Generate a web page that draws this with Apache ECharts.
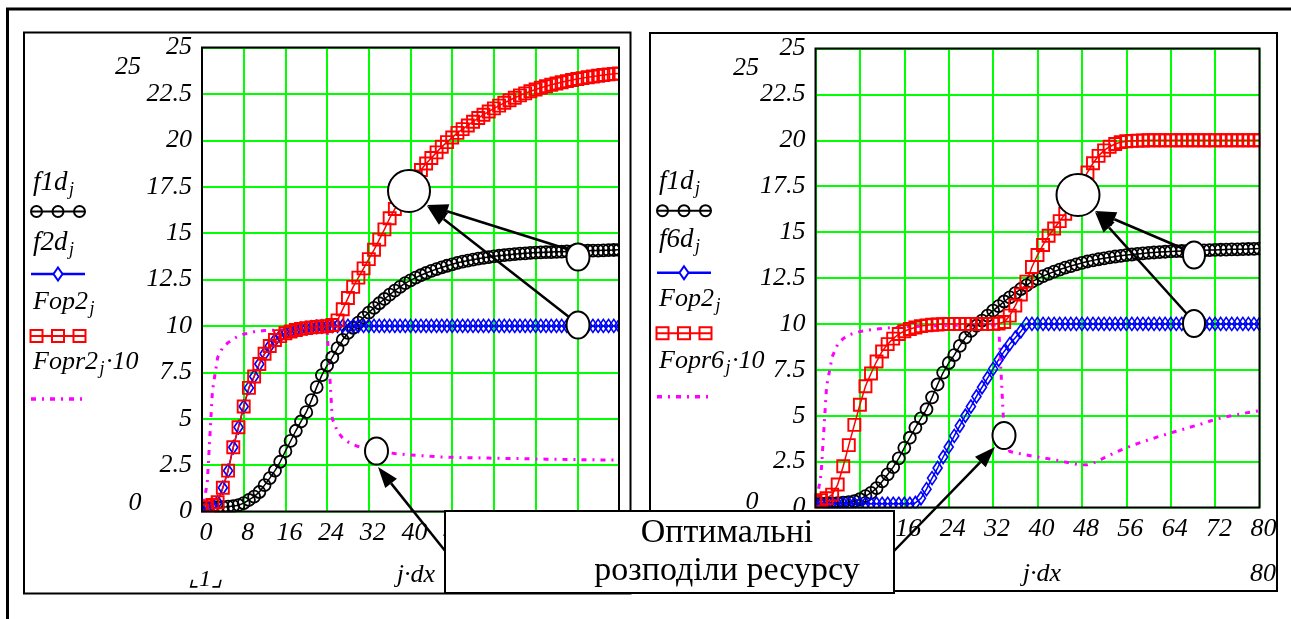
<!DOCTYPE html>
<html><head><meta charset="utf-8">
<script src="https://cdn.jsdelivr.net/npm/echarts@6/dist/echarts.min.js"></script>
<style>html,body{margin:0;padding:0;background:#fff;}#c{width:1291px;height:619px;}</style>
</head><body><div id="c"></div>
<script>
// ---------- data ----------
const jdx = [0,1,2,3,4,5,6,7,8,9,10,11,12,13,14,15,16,17,18,19,20,21,22,23,24,25,26,27,28,29,30,31,32,33,34,35,36,37,38,39,40,41,42,43,44,45,46,47,48,49,50,51,52,53,54,55,56,57,58,59,60,61,62,63,64,65,66,67,68,69,70,71,72,73,74,75,76,77,78,79,80];
const xMin = 0, xMax = 80, xStep = 8;
const yMin = 0, yMax = 25, yStep = 2.5;

// f1d_j (both panels)
const f1d = [0.2,0.21,0.22,0.23,0.24,0.26,0.29,0.34,0.45,0.62,
 0.8,1.05,1.42,1.8,2.2,2.68,3.25,3.8,4.35,4.85,
 5.35,6.0,6.7,7.35,7.87,8.3,8.8,9.25,9.62,9.9,
 10.18,10.45,10.72,10.97,11.22,11.45,11.68,11.9,12.1,12.3,
 12.45,12.6,12.73,12.85,12.96,13.06,13.15,13.24,13.32,13.4,
 13.46,13.52,13.57,13.62,13.67,13.71,13.75,13.78,13.81,13.84,
 13.87,13.89,13.91,13.93,13.95,13.96,13.97,13.98,13.99,14.0,
 14.01,14.02,14.03,14.04,14.05,14.06,14.06,14.07,14.08,14.09,14.1];

// left panel
const f2d = [0.05,0.23,0.35,0.5,1.28,2.2,3.46,4.54,5.66,6.66,
 7.27,7.95,8.5,8.92,9.24,9.45,9.6,9.7,9.78,9.84,
 9.88,9.92,9.95,9.97,9.99,10,10,10,10,10,
 10,10,10,10,10,10,10,10,10,10,
 10,10,10,10,10,10,10,10,10,10,
 10,10,10,10,10,10,10,10,10,10,
 10,10,10,10,10,10,10,10,10,10,
 10,10,10,10,10,10,10,10,10,10,10];
const Fop2L = [0.05,0.23,0.35,0.5,1.28,2.2,3.46,4.54,5.66,6.66,
 7.27,7.95,8.5,8.92,9.24,9.45,9.6,9.7,9.78,9.84,
 9.88,9.92,9.95,9.97,9.99,10.05,10.3,10.9,11.5,12.1,
 12.6,13.1,13.6,14.1,14.65,15.2,15.8,16.3,16.8,17.25,
 17.65,18.05,18.4,18.75,19.05,19.35,19.65,19.9,20.15,20.4,
 20.6,20.8,21.0,21.2,21.38,21.55,21.72,21.87,22.02,22.16,
 22.29,22.42,22.53,22.64,22.74,22.83,22.91,22.99,23.06,23.13,
 23.19,23.25,23.3,23.35,23.4,23.44,23.48,23.52,23.55,23.58,23.6];
const Fopr2x10 = [0,1.5,6.5,8.3,8.85,9.1,9.3,9.45,9.55,9.62,
 9.68,9.72,9.75,9.76,9.77,9.78,9.78,9.79,9.79,9.8,
 9.8,9.8,9.8,9.8,9.7,5.0,4.3,3.95,3.75,3.6,
 3.5,3.42,3.35,3.3,3.25,3.2,3.16,3.12,3.1,3.07,
 3.05,3.03,3.01,2.99,2.97,2.95,2.94,2.93,2.92,2.91,
 2.9,2.9,2.89,2.89,2.88,2.88,2.87,2.87,2.86,2.86,
 2.85,2.85,2.84,2.84,2.83,2.83,2.82,2.82,2.81,2.81,
 2.8,2.8,2.8,2.79,2.79,2.79,2.78,2.78,2.78,2.77,2.77];

// right panel
const f6d = [0.2,0.2,0.2,0.2,0.2,0.2,0.2,0.2,0.2,0.2,
 0.2,0.2,0.2,0.2,0.2,0.2,0.2,0.2,0.25,0.5,
 1.0,1.6,2.15,2.75,3.3,3.9,4.45,5.0,5.5,6.05,
 6.55,7.05,7.55,8.05,8.5,8.9,9.25,9.6,10,10,
 10,10,10,10,10,10,10,10,10,10,
 10,10,10,10,10,10,10,10,10,10,
 10,10,10,10,10,10,10,10,10,10,
 10,10,10,10,10,10,10,10,10,10,10];
const Fop2R = [0.3,0.4,0.5,0.7,1.25,2.25,3.4,4.5,5.6,6.6,
 7.3,7.95,8.5,8.9,9.2,9.45,9.6,9.72,9.8,9.88,
 9.92,9.95,9.97,9.99,10,10,10,10,10,10,
 10,10,10,10.02,10.1,10.45,11.0,11.6,12.3,13.1,
 13.75,14.3,14.8,15.2,15.6,16.0,16.6,17.15,17.7,18.25,
 18.75,19.15,19.45,19.65,19.8,19.9,19.95,19.97,19.98,19.99,
 20,20,20,20,20,20,20,20,20,20,
 20,20,20,20,20,20,20,20,20,20,20];
const Fopr6x10 = [0,1.8,6.6,8.2,8.9,9.2,9.4,9.5,9.58,9.64,
 9.68,9.72,9.75,9.78,9.8,9.82,9.84,9.86,9.87,9.88,
 9.89,9.9,9.9,9.91,9.91,9.92,9.92,9.93,9.93,9.94,
 9.94,9.95,9.95,9.9,4.0,3.05,2.98,2.92,2.86,2.8,
 2.75,2.7,2.65,2.6,2.55,2.48,2.42,2.36,2.32,2.33,
 2.42,2.55,2.7,2.85,3.0,3.13,3.25,3.37,3.48,3.58,
 3.68,3.78,3.88,3.97,4.06,4.15,4.24,4.33,4.42,4.5,
 4.6,4.7,4.8,4.87,4.94,5.0,5.06,5.12,5.17,5.22,5.27];

// ---------- drawing ----------
const FF = '"Liberation Serif","Times New Roman",serif';
const chart = echarts.init(document.getElementById('c'), null, {renderer:'canvas'});
const mctx = document.createElement('canvas').getContext('2d');
function tw(t, s, it){ mctx.font = (it?'italic ':'') + s + 'px "Liberation Serif"'; return mctx.measureText(t).width; }

const ST = {
  circ: {symbol:'circle', size:12, color:'#000000', lw:1.5, bw:1.8},
  diam: {symbol:'diamond', size:[9,13], color:'#0000ff', lw:1.5, bw:1.7},
  sq:   {symbol:'rect', size:12, color:'#ff0000', lw:1.5, bw:1.9},
  dd:   {symbol:'none', color:'#ff00ff', lw:3, dash:[5,6,2,6]}
};
function mk(gi, ys, st){
  return {
    type:'line', xAxisIndex:gi, yAxisIndex:gi, silent:true, animation:false,
    data: jdx.map((x,i)=>[x, ys[i]]),
    symbol: st.symbol, symbolSize: st.size || 0, showSymbol: st.symbol !== 'none', showAllSymbol:true,
    lineStyle:{color:st.color, width:st.lw, type: st.dash || 'solid', cap:'butt'},
    itemStyle:{color:'rgba(0,0,0,0)', borderColor:st.color, borderWidth:st.bw || 0},
    emphasis:{disabled:true}, clip:true, z:2
  };
}
const grids = [
  {left:202, top:47.5, width:417, height:464},
  {left:815.5, top:48.5, width:444, height:459}
];
const lab = {fontFamily:FF, fontStyle:'italic', fontSize:26, color:'#000'};
function xa(gi){ return {type:'value', gridIndex:gi, min:xMin, max:xMax, interval:xStep,
  axisLine:{show:false}, axisTick:{show:false},
  splitLine:{show:true, lineStyle:{color:'#00ff00', width:2}},
  axisLabel:Object.assign({margin:9, padding:[0,0,0,8]}, lab)}; }
function ya(gi){ return {type:'value', gridIndex:gi, min:yMin, max:yMax, interval:yStep,
  axisLine:{show:false}, axisTick:{show:false},
  splitLine:{show:true, lineStyle:{color:'#00ff00', width:2}},
  axisLabel:Object.assign({margin:10}, lab)}; }

// graphic helpers
const G = [];
function T(x, yb, t, s, it, align, z){ G.push({type:'text', x:x, y:yb - 0.33*s, z:z||10,
  style:{text:t, fontSize:s, fontFamily:FF, fontStyle: it?'italic':'normal', fill:'#000', align:align||'left', verticalAlign:'middle'}}); }
function TS(x, yb, parts){ // parts: [text, size, dy]
  let cx = x;
  parts.forEach(p=>{ T(cx, yb + (p[2]||0), p[0], p[1], true); cx += tw(p[0], p[1], true) + 1.5; });
}
function R(x,y,w,h,lw,fill,z,stroke){ G.push({type:'rect', z:z||1, shape:{x:x,y:y,width:w,height:h}, style:{fill:fill||'none', stroke: stroke===undefined?'#000':stroke, lineWidth:lw}}); }
function L(x1,y1,x2,y2,col,lw,dash,z){ G.push({type:'line', z:z||10, shape:{x1:x1,y1:y1,x2:x2,y2:y2}, style:{stroke:col, lineWidth:lw, lineDash:dash||null}}); }
function E(cx,cy,rx,ry,z){ G.push({type:'ellipse', z:z||102, shape:{cx:cx,cy:cy,rx:rx,ry:ry}, style:{fill:'#fff', stroke:'#000', lineWidth:2}}); }
function C(cx,cy,r,col){ G.push({type:'circle', z:10, shape:{cx:cx,cy:cy,r:r}, style:{fill:'none', stroke:col, lineWidth:2}}); }
function P(pts,fill,stroke,z){ G.push({type:'polygon', z:z||10, shape:{points:pts}, style:{fill:fill, stroke:stroke||fill, lineWidth:stroke?2:0}}); }
function A(x1,y1,x2,y2){
  const dx=x2-x1, dy=y2-y1, d=Math.hypot(dx,dy), ux=dx/d, uy=dy/d, Lh=21, W=7.5;
  const bx=x2-ux*Lh, by=y2-uy*Lh;
  L(x1,y1,bx,by,'#000',2.5,null,101);
  P([[x2,y2],[bx+uy*W,by-ux*W],[bx-uy*W,by+ux*W]],'#000',null,101);
}

// frames
R(7.5,9,1300,700,3);
R(24,32.5,606.5,561,2);
R(650,33,627,558,2);
// white strips that cut marks overflowing the plot, then plot borders
grids.forEach(g=>{
  R(g.left+g.width+1, g.top-10, 9, g.height+20, 0, '#fff', 3, 'none');
  R(g.left-8, g.top-10, 7, g.height+20, 0, '#fff', 3, 'none');
  R(g.left-8, g.top+g.height+1, g.width+17, 6.5, 0, '#fff', 3, 'none');
  R(g.left,g.top,g.width,g.height,2,null,4);
});

// legends
function legend(ox, ys, names){
  const [yb1,yl1,yb2,yl2,yb3,yl3,yb4,yl4] = ys;
  const xL = ox - 2, xR = ox + 52;
  TS(ox, yb1, [[names[0],27],['j',18,4]]);
  L(xL,yl1,xR,yl1,'#000',2);
  [xL+5.5, xL+27, xR-5.5].forEach(cx=>C(cx,yl1,5.5,'#000'));
  TS(ox, yb2, [[names[1],27],['j',18,4]]);
  L(xL,yl2,xR,yl2,'#0000ff',2.5);
  const mx=(xL+xR)/2;
  P([[mx,yl2-6.5],[mx+4.5,yl2],[mx,yl2+6.5],[mx-4.5,yl2]],'#fff','#0000ff');
  TS(ox, yb3, [[names[2],26],['j',18,4]]);
  L(xL,yl3,xR,yl3,'#ff0000',2);
  [xL+5.5, xL+27, xR-5.5].forEach(cx=>G.push({type:'rect', z:10, shape:{x:cx-6,y:yl3-6,width:12,height:12}, style:{fill:'none', stroke:'#ff0000', lineWidth:2}}));
  TS(ox, yb4, [[names[3],26],['j',18,4],['·10',26]]);
  L(xL,yl4,xR,yl4,'#ff00ff',3.5,[5,6,2,6]);
}
legend(33, [192,211.5,252,274,311,336,371,399], ['f1d','f2d','Fop2','Fopr2']);
legend(659, [191,210.7,249,272.7,308,333.3,370,396.7], ['f1d','f6d','Fop2','Fopr6']);

// extra axis texts
T(128, 76, '25', 26, true, 'center');
T(135, 512, '0', 26, true, 'center');
T(746, 77, '25', 26, true, 'center');
T(752, 511, '0', 26, true, 'center');
T(205, 588, '⌞1⌟', 24, true, 'center');
T(416, 584, 'j·dx', 26, true, 'center');
T(1042, 583, 'j·dx', 26, true, 'center');
T(1263, 583, '80', 26, true, 'center');

// annotations
A(567,249,427,205); A(569,317,427,206);
E(409,191,21,21); E(578,257,11.5,13.5); E(578,325,11.5,13.5); E(376.5,451,11.5,13.5);
A(1184,249,1095,211); A(1187,314,1095,212);
E(1078,195,21.5,21); E(1194,255,11,13.5); E(1194,323.5,11,13.5); E(1004,435.5,11.5,13.5);
A(446,552,378,467);
A(894,551,995,447);
R(445,511,449,82,2,'#fff',105);
G.push({type:'text', x:727, y:545-11.5, z:106, style:{text:'Оптимальні', fontSize:34, fontFamily:FF, fill:'#000', align:'center', verticalAlign:'middle'}});
G.push({type:'text', x:727, y:583-11.5, z:106, style:{text:'розподіли ресурсу', fontSize:34, fontFamily:FF, fill:'#000', align:'center', verticalAlign:'middle'}});

chart.setOption({
  animation:false,
  backgroundColor:'#fff',
  grid: grids,
  xAxis: [xa(0), xa(1)],
  yAxis: [ya(0), ya(1)],
  series: [
    mk(0, f1d, ST.circ), mk(0, f2d, ST.diam), mk(0, Fop2L, ST.sq), mk(0, Fopr2x10, ST.dd),
    mk(1, f1d, ST.circ), mk(1, f6d, ST.diam), mk(1, Fop2R, ST.sq), mk(1, Fopr6x10, ST.dd)
  ],
  graphic: G
});
</script></body></html>
